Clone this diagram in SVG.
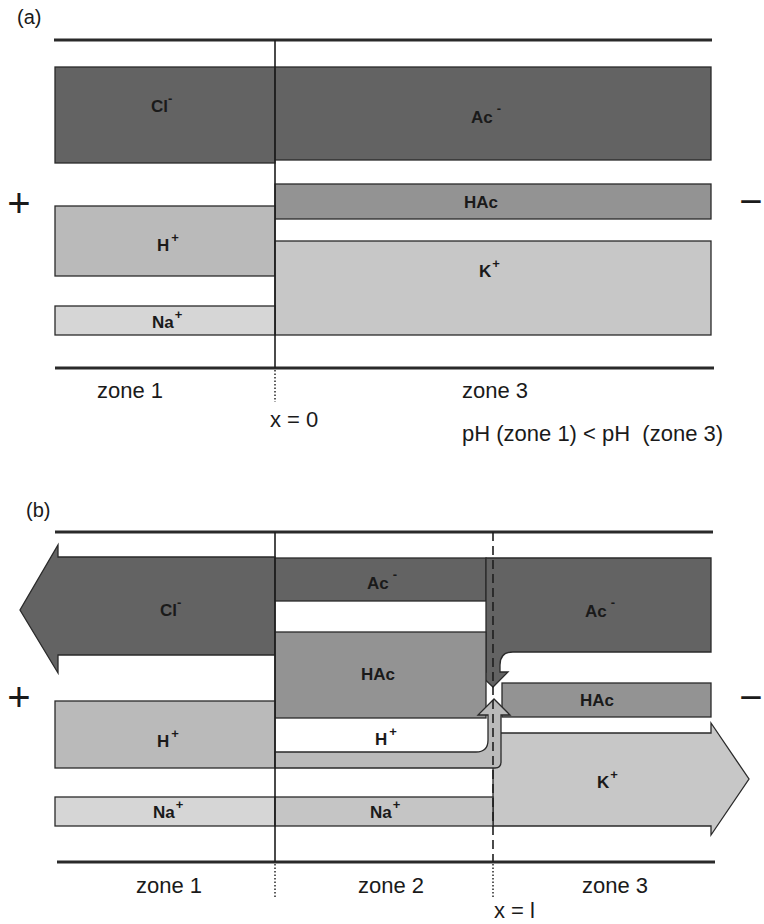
<svg xmlns="http://www.w3.org/2000/svg" width="764" height="924" viewBox="0 0 764 924">
<style>
.box{stroke:#2a2a2a;stroke-width:1.3;stroke-linejoin:miter}
.dark{fill:#636363}
.mid{fill:#939393}
.hp{fill:#bababa}
.kp{fill:#c7c7c7}
.na1{fill:#d6d6d6}
.na2{fill:#c5c5c5}
.rule{stroke:#2a2a2a;stroke-width:3;fill:none}
.vline{stroke:#1e1e1e;stroke-width:1.6;fill:none}
.dot{stroke:#333;stroke-width:1.6;stroke-dasharray:1.5 2;fill:none}
.dash{stroke:#1e1e1e;stroke-width:1.6;stroke-dasharray:9 5;fill:none}
.lbl{font-family:"Liberation Sans",Arial,sans-serif;font-size:17px;font-weight:bold;fill:#1a1a1a}
.zone{font-family:"Liberation Sans",Arial,sans-serif;font-size:22px;fill:#1a1a1a}
.sign{font-family:"Liberation Sans",Arial,sans-serif;font-size:40px;fill:#1a1a1a;text-anchor:middle}
.sup{font-size:13px}
</style>

<!-- Panel (a) -->
<text class="zone" x="17" y="24" style="font-size:20px">(a)</text>
<g id="a-rules">
<line class="rule" x1="54" y1="40" x2="712" y2="40"/>
<line class="rule" x1="55" y1="368" x2="714" y2="368"/>
</g>
<g id="a-Cl"><rect class="box dark" x="55" y="67" width="220" height="96"/>
<text class="lbl" x="151" y="112">Cl<tspan class="sup" dy="-9">-</tspan></text></g>
<g id="a-Ac"><rect class="box dark" x="275" y="67" width="436" height="93"/>
<text class="lbl" x="471" y="123">Ac<tspan class="sup" dy="-10" dx="4">-</tspan></text></g>
<g id="a-HAc"><rect class="box mid" x="275" y="184" width="436" height="35"/>
<text class="lbl" x="464" y="208">HAc</text></g>
<g id="a-H"><rect class="box hp" x="55" y="206" width="220" height="70"/>
<text class="lbl" x="157" y="251">H<tspan class="sup" dy="-9" dx="2">+</tspan></text></g>
<g id="a-K"><rect class="box kp" x="275" y="241" width="436" height="94"/>
<text class="lbl" x="479" y="277">K<tspan class="sup" dy="-9" dx="1">+</tspan></text></g>
<g id="a-Na"><rect class="box na1" x="55" y="306" width="220" height="29"/>
<text class="lbl" x="152" y="328">Na<tspan class="sup" dy="-9" dx="1">+</tspan></text></g>
<g id="a-lines">
<line class="vline" x1="275" y1="40" x2="275" y2="368"/>
<line class="dot" x1="275" y1="370" x2="275" y2="402"/>
</g>
<text class="sign" x="19" y="217">+</text>
<text class="sign" x="751" y="215">−</text>
<text class="zone" x="97" y="398">zone 1</text>
<text class="zone" x="462" y="398">zone 3</text>
<text class="zone" x="270" y="427">x = 0</text>
<text class="zone" x="462" y="441" xml:space="preserve">pH (zone 1) &lt; pH  (zone 3)</text>

<!-- Panel (b) -->
<text class="zone" x="26" y="517" style="font-size:20px">(b)</text>
<g id="b-rules">
<line class="rule" x1="55" y1="532" x2="713" y2="532"/>
<line class="rule" x1="57" y1="862" x2="715" y2="862"/>
</g>
<g id="b-K"><path class="box kp" d="M493,733 H711 V723 L749,779 L711,835 V826 H493 Z"/>
<text class="lbl" x="597" y="788">K<tspan class="sup" dy="-9" dx="1">+</tspan></text></g>
<g id="b-HAc3"><rect class="box mid" x="502" y="683" width="209" height="34"/>
<text class="lbl" x="580" y="706">HAc</text></g>
<g id="b-Cl"><path class="box dark" d="M275,557 H58 V545 L20,610 L58,673 V655 H275 Z"/>
<text class="lbl" x="160" y="616">Cl<tspan class="sup" dy="-9">-</tspan></text></g>
<g id="b-Ac2"><rect class="box dark" x="275" y="558" width="211" height="43"/>
<text class="lbl" x="367" y="589">Ac<tspan class="sup" dy="-10" dx="4">-</tspan></text></g>
<g id="b-Ac3"><path class="box dark" d="M486,558 H711 V652 H513 Q500,652 500,665 V672 H508 L493,687 L477,672 H486 Z"/>
<text class="lbl" x="585" y="617">Ac<tspan class="sup" dy="-10" dx="4">-</tspan></text></g>
<g id="b-HAc2"><rect class="box mid" x="275" y="632" width="211" height="86"/>
<text class="lbl" x="361" y="680">HAc</text></g>
<g id="b-H1"><rect class="box hp" x="55" y="701" width="220" height="67"/>
<text class="lbl" x="157" y="747">H<tspan class="sup" dy="-9" dx="2">+</tspan></text></g>
<g id="b-H2"><path class="box hp" d="M275,752 H476 Q488,752 488,740 V715 H478 L494,699 L510,715 H501 V762 Q501,768 495,768 H275 Z"/>
<text class="lbl" x="375" y="745">H<tspan class="sup" dy="-9" dx="2">+</tspan></text></g>
<g id="b-Na1"><rect class="box na1" x="55" y="797" width="220" height="29"/>
<text class="lbl" x="153" y="818">Na<tspan class="sup" dy="-9" dx="1">+</tspan></text></g>
<g id="b-Na2"><rect class="box na2" x="275" y="797" width="218" height="29"/>
<text class="lbl" x="370" y="818">Na<tspan class="sup" dy="-9" dx="1">+</tspan></text></g>
<g id="b-lines">
<line class="vline" x1="275" y1="532" x2="275" y2="862"/>
<line class="dot" x1="275" y1="864" x2="275" y2="897"/>
<line class="dash" x1="493" y1="532" x2="493" y2="862"/>
<line class="dot" x1="493" y1="864" x2="493" y2="897"/>
</g>
<text class="sign" x="19" y="711">+</text>
<text class="sign" x="751" y="711">−</text>
<text class="zone" x="136" y="893">zone 1</text>
<text class="zone" x="358" y="893">zone 2</text>
<text class="zone" x="582" y="893">zone 3</text>
<text class="zone" x="494" y="918">x = l</text>
</svg>
